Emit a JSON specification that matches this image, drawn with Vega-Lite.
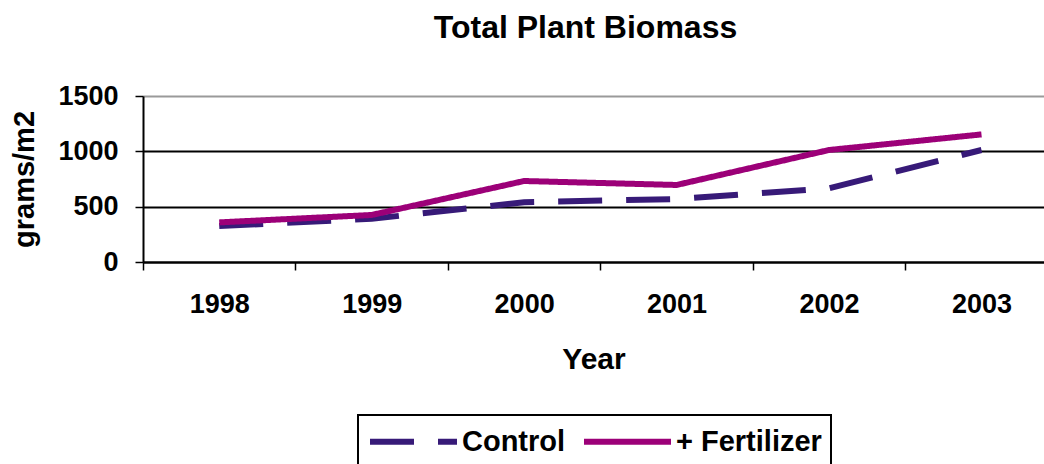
{
  "$schema": "https://vega.github.io/schema/vega-lite/v6.json",
  "autosize": "none",
  "width": 901,
  "height": 166,
  "padding": {"left": 143, "top": 96, "right": 0, "bottom": 202},
  "background": "white",
  "config": {
    "font": "Liberation Sans",
    "view": {"stroke": null},
    "axis": {"labelFont": "Liberation Sans", "titleFont": "Liberation Sans", "labelFontWeight": "bold", "titleFontWeight": "bold", "labelColor": "black", "titleColor": "black"},
    "legend": {
      "strokeColor": "black", "strokeWidth": 2, "padding": 9, "fillColor": "white",
      "symbolType": "M-1,0H5", "symbolSize": 841, "symbolStrokeWidth": 6,
      "labelFont": "Liberation Sans", "labelFontWeight": "bold", "labelFontSize": 29, "labelColor": "black",
      "labelOffset": 60, "columnPadding": 6
    }
  },
  "title": {"text": "Total Plant Biomass", "font": "Liberation Sans", "fontSize": 32, "fontWeight": "bold", "color": "black", "anchor": "middle", "offset": 37, "dx": -8},
  "data": {"values": [
    {"year": 1998, "series": "Control", "value": 325},
    {"year": 1999, "series": "Control", "value": 390},
    {"year": 2000, "series": "Control", "value": 540},
    {"year": 2001, "series": "Control", "value": 569},
    {"year": 2002, "series": "Control", "value": 666},
    {"year": 2003, "series": "Control", "value": 1012},
    {"year": 1998, "series": "+ Fertilizer", "value": 358},
    {"year": 1999, "series": "+ Fertilizer", "value": 425},
    {"year": 2000, "series": "+ Fertilizer", "value": 732},
    {"year": 2001, "series": "+ Fertilizer", "value": 696},
    {"year": 2002, "series": "+ Fertilizer", "value": 1012},
    {"year": 2003, "series": "+ Fertilizer", "value": 1153}
  ]},
  "mark": {"type": "line", "strokeWidth": 6, "strokeCap": "butt"},
  "encoding": {
    "x": {
      "field": "year", "type": "quantitative", "title": "Year",
      "scale": {"domain": [1997.5, 2003.41], "nice": false, "zero": false},
      "axis": {
        "values": [1997.5, 1998, 1998.5, 1999, 1999.5, 2000, 2000.5, 2001, 2001.5, 2002, 2002.5, 2003, 2003.5],
        "labelExpr": "datum.value % 1 === 0 ? datum.value : ''",
        "tickOpacity": {"condition": {"test": "datum.value % 1 === 0", "value": 0}, "value": 1},
        "grid": false, "domainColor": "black", "domainWidth": 2, "tickColor": "black", "tickWidth": 1.5, "tickSize": 8,
        "labelFontSize": 27, "labelPadding": 21, "labelFlush": false, "labelOverlap": false,
        "titleFontSize": 30, "titlePadding": 27
      }
    },
    "y": {
      "field": "value", "type": "quantitative", "title": "grams/m2",
      "scale": {"domain": [0, 1500], "nice": false},
      "axis": {
        "values": [0, 500, 1000, 1500],
        "format": "d",
        "grid": true,
        "gridColor": {"condition": {"test": "datum.value === 1500", "value": "#9a9a9a"}, "value": "black"},
        "gridWidth": 2, "gridOpacity": 1,
        "domainColor": "black", "domainWidth": 2, "tickColor": "black", "tickWidth": 1.5, "tickSize": 8,
        "labelFontSize": 27, "labelPadding": 17, "titleFontSize": 29, "titlePadding": 18
      }
    },
    "color": {
      "field": "series", "type": "nominal",
      "scale": {"domain": ["Control", "+ Fertilizer"], "range": ["#371a78", "#9c0078"]},
      "legend": {"orient": "none", "legendX": 215, "legendY": 319, "direction": "horizontal", "title": null}
    },
    "strokeDash": {
      "field": "series", "type": "nominal",
      "scale": {"domain": ["Control", "+ Fertilizer"], "range": [[44, 24], [1, 0]]},
      "legend": {"orient": "none", "legendX": 215, "legendY": 319, "direction": "horizontal", "title": null}
    }
  }
}
